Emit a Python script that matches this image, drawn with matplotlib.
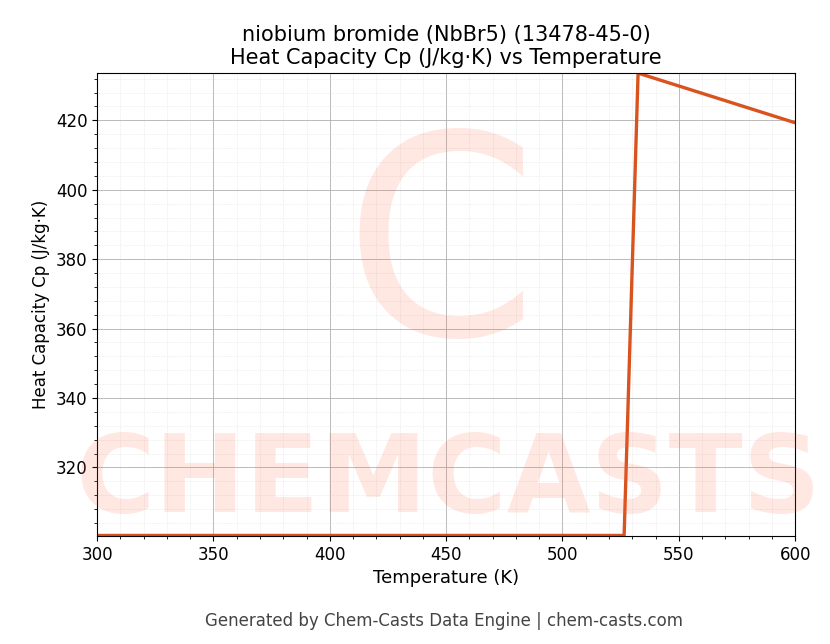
import matplotlib.pyplot as plt
from matplotlib.ticker import AutoMinorLocator

temperature = [300, 350, 400, 450, 500, 526.5, 532.5, 550, 575, 600]
heat_capacity = [300.4, 300.4, 300.4, 300.4, 300.4, 300.4, 433.6, 429.9, 424.6, 419.3]

fig = plt.figure(figsize=(8.3, 6.44), dpi=100)
ax = fig.add_axes([0.117, 0.168, 0.841, 0.719])

# faint watermark
fig.text(0.54, 0.17, "CHEMCASTS", fontsize=78, fontweight="bold", color="#ff6040",
         alpha=0.15, ha="center", va="bottom", zorder=0)
fig.text(0.53, 0.60, "C", fontsize=200, color="#ff6040", alpha=0.15,
         ha="center", va="center", zorder=0)

ax.plot(temperature, heat_capacity, color="#d9531e", linewidth=2.4)
ax.set_xlim(300, 600)
ax.set_ylim(300.3, 433.7)
ax.set_xticks([300, 350, 400, 450, 500, 550, 600])
ax.set_yticks([320, 340, 360, 380, 400, 420])
ax.xaxis.set_minor_locator(AutoMinorLocator(5))
ax.yaxis.set_minor_locator(AutoMinorLocator(5))
ax.grid(which="major", color="#b0b0b0", linewidth=0.6)
ax.grid(which="minor", color="#d8d8d8", linewidth=0.4, linestyle=":")
ax.set_facecolor("none")
ax.tick_params(labelsize=12)
ax.set_xlabel("Temperature (K)", fontsize=13)
ax.set_ylabel("Heat Capacity Cp (J/kg·K)", fontsize=12)
ax.set_title("niobium bromide (NbBr5) (13478-45-0)\nHeat Capacity Cp (J/kg·K) vs Temperature",
             fontsize=15)
fig.text(0.535, 0.028, "Generated by Chem-Casts Data Engine | chem-casts.com",
         ha="center", fontsize=12, color="#444444")

fig.savefig("out.png", dpi=100)
